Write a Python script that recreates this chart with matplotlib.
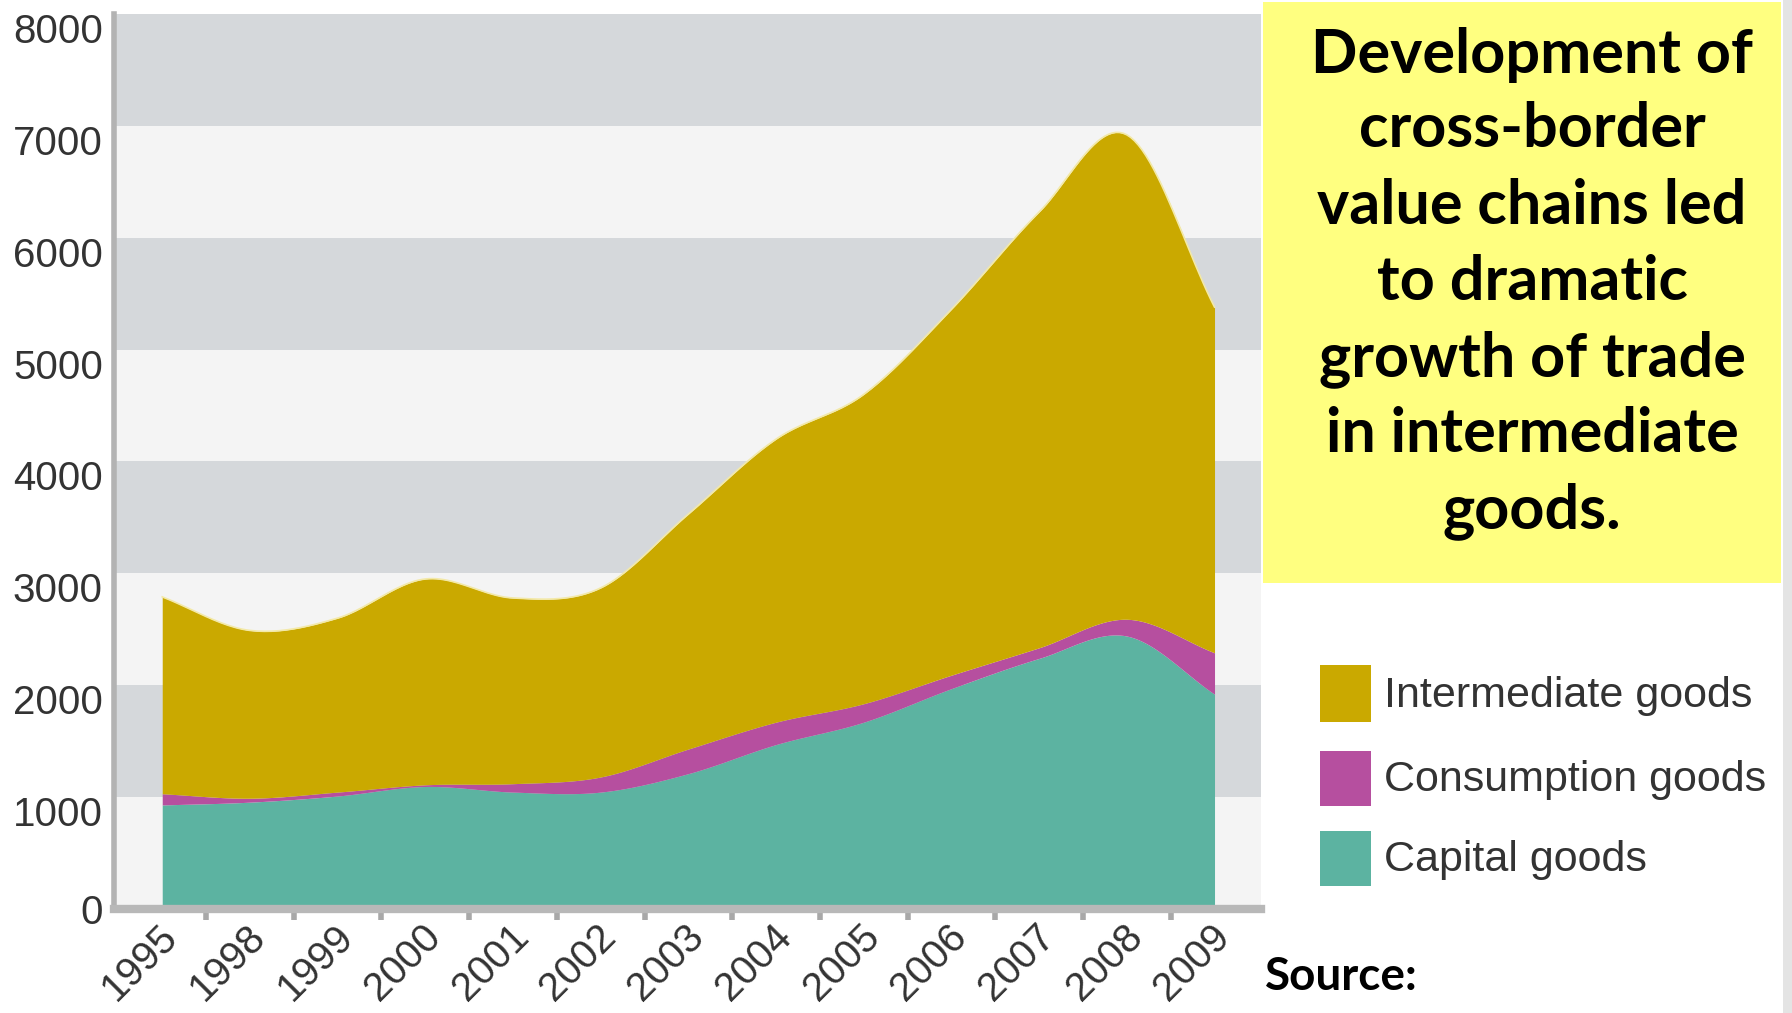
import numpy as np
import matplotlib
matplotlib.use('Agg')
import matplotlib.pyplot as plt
import matplotlib.transforms as mtransforms
from matplotlib.patches import Rectangle

# ---- data ----
years = ['1995', '1998', '1999', '2000', '2001', '2002', '2003',
         '2004', '2005', '2006', '2007', '2008', '2009']
capital = [930, 955, 1010, 1095, 1045, 1045, 1210, 1470, 1670, 1970, 2240, 2440, 1920]
consumption = [100, 35, 35, 15, 75, 135, 220, 200, 165, 120, 95, 150, 370]
intermediate = [1760, 1500, 1555, 1840, 1660, 1690, 2100, 2530, 2765, 3270, 3895, 4330, 3090]
series_names = ['Intermediate goods', 'Consumption goods', 'Capital goods']
y_ticks = [0, 1000, 2000, 3000, 4000, 5000, 6000, 7000, 8000]
title_lines = ['Development of', 'cross-border', 'value chains led', 'to dramatic',
               'growth of trade', 'in intermediate', 'goods.']

c_inter = '#caa900'
c_cons = '#b64f9f'
c_cap = '#5cb3a1'


def catmull(x, y, n=24):
    x = np.asarray(x, float)
    y = np.asarray(y, float)
    m = np.empty_like(y)
    m[1:-1] = (y[2:] - y[:-2]) / 2.0
    m[0] = y[1] - y[0]
    m[-1] = y[-1] - y[-2]
    xs, ys = [], []
    for i in range(len(x) - 1):
        t = np.linspace(0, 1, n, endpoint=(i == len(x) - 2))
        h00 = 2 * t**3 - 3 * t**2 + 1
        h10 = t**3 - 2 * t**2 + t
        h01 = -2 * t**3 + 3 * t**2
        h11 = t**3 - t**2
        xs.append(x[i] + t * (x[i + 1] - x[i]))
        ys.append(h00 * y[i] + h10 * m[i] + h01 * y[i + 1] + h11 * m[i + 1])
    return np.concatenate(xs), np.concatenate(ys)


W, H = 1792, 1013
fig = plt.figure(figsize=(W / 100, H / 100), dpi=100)
fig.patch.set_facecolor('white')

ax_l, ax_r, ax_t, ax_b = 114, 1261, 14, 909
ax = fig.add_axes([ax_l / W, 1 - ax_b / H, (ax_r - ax_l) / W, (ax_b - ax_t) / H])

x = np.arange(len(years))
cap = np.array(capital, float)
cons_top = cap + np.array(consumption, float)
total = cons_top + np.array(intermediate, float)

xs, y0 = catmull(x, cap)
_, y1 = catmull(x, cons_top)
_, y2 = catmull(x, total)

# background bands
for k in range(8):
    col = '#d5d8db' if k % 2 == 1 else '#f4f4f4'
    ax.axhspan(k * 1000, (k + 1) * 1000, color=col, zorder=0, lw=0)

ax.fill_between(xs, 0, y0, color=c_cap, lw=0, zorder=2)
ax.fill_between(xs, y0, y1, color=c_cons, lw=0, zorder=2)
ax.fill_between(xs, y1, y2, color=c_inter, lw=0, zorder=2)
ax.plot(xs, y2, color='#f3e9a8', lw=1.2, zorder=3)

ax.set_xlim(-0.55, 12.53)
ax.set_ylim(0, 8000)

for s in ['top', 'right']:
    ax.spines[s].set_visible(False)
ax.spines['left'].set_color('#b3b3b3')
ax.spines['left'].set_linewidth(4)
ax.spines['bottom'].set_color('#b8b8b8')
ax.spines['bottom'].set_linewidth(6)

ax.set_yticks(y_ticks)
ax.set_yticklabels([str(v) for v in y_ticks])
ax.tick_params(axis='y', length=0, pad=8, labelsize=29, labelcolor='#333333')
for lbl in ax.get_yticklabels():
    lbl.set_fontfamily('Liberation Sans')
    if lbl.get_text() != '0':
        lbl.set_transform(lbl.get_transform() +
                          mtransforms.ScaledTranslation(0, -14 / 100, fig.dpi_scale_trans))

ax.set_xticks(x)
ax.set_xticklabels(years, rotation=45, ha='right', va='top', rotation_mode='anchor')
ax.set_xticks(x[:-1] + 0.5, minor=True)
ax.tick_params(axis='x', which='major', length=0, pad=6, labelsize=29, labelcolor='#333333')
ax.tick_params(axis='x', which='minor', length=8, width=4, color='#a8a8a8')
for lbl in ax.get_xticklabels():
    lbl.set_fontfamily('Liberation Sans')
    lbl.set_transform(lbl.get_transform() +
                      mtransforms.ScaledTranslation(-4 / 100, 0, fig.dpi_scale_trans))

# yellow title box
bx0, by0, bx1, by1 = 1263, 2, 1781, 583
fig.patches.append(Rectangle((bx0 / W, 1 - by1 / H), (bx1 - bx0) / W, (by1 - by0) / H,
                             transform=fig.transFigure, color='#ffff80', lw=0, zorder=1))
line_y = [55, 129, 206, 282, 359, 434, 511]
for t, yy in zip(title_lines, line_y):
    fig.text(1532 / W, 1 - yy / H, t, ha='center', va='center', fontsize=44,
             fontweight='bold', family='Lato', color='black')

# right edge strip
fig.patches.append(Rectangle((1783 / W, 0), 9 / W, 1, transform=fig.transFigure,
                             color='#e4e4e4', lw=0))

# legend
leg_cols = [c_inter, c_cons, c_cap]
leg_y = [(665, 722), (751, 806), (831, 886)]
for name, col, (ya, yb) in zip(series_names, leg_cols, leg_y):
    fig.patches.append(Rectangle((1320 / W, 1 - yb / H), 51 / W, (yb - ya) / H,
                                 transform=fig.transFigure, color=col, lw=0))
    fig.text(1384 / W, 1 - ((ya + yb) / 2 + 2) / H, name, ha='left', va='center',
             fontsize=31, family='Liberation Sans', color='#333333')

fig.text(1265 / W, 1 - 977 / H, 'Source:', ha='left', va='center', fontsize=33,
         fontweight='bold', family='Lato', color='black')

fig.savefig('out.png', dpi=100)
